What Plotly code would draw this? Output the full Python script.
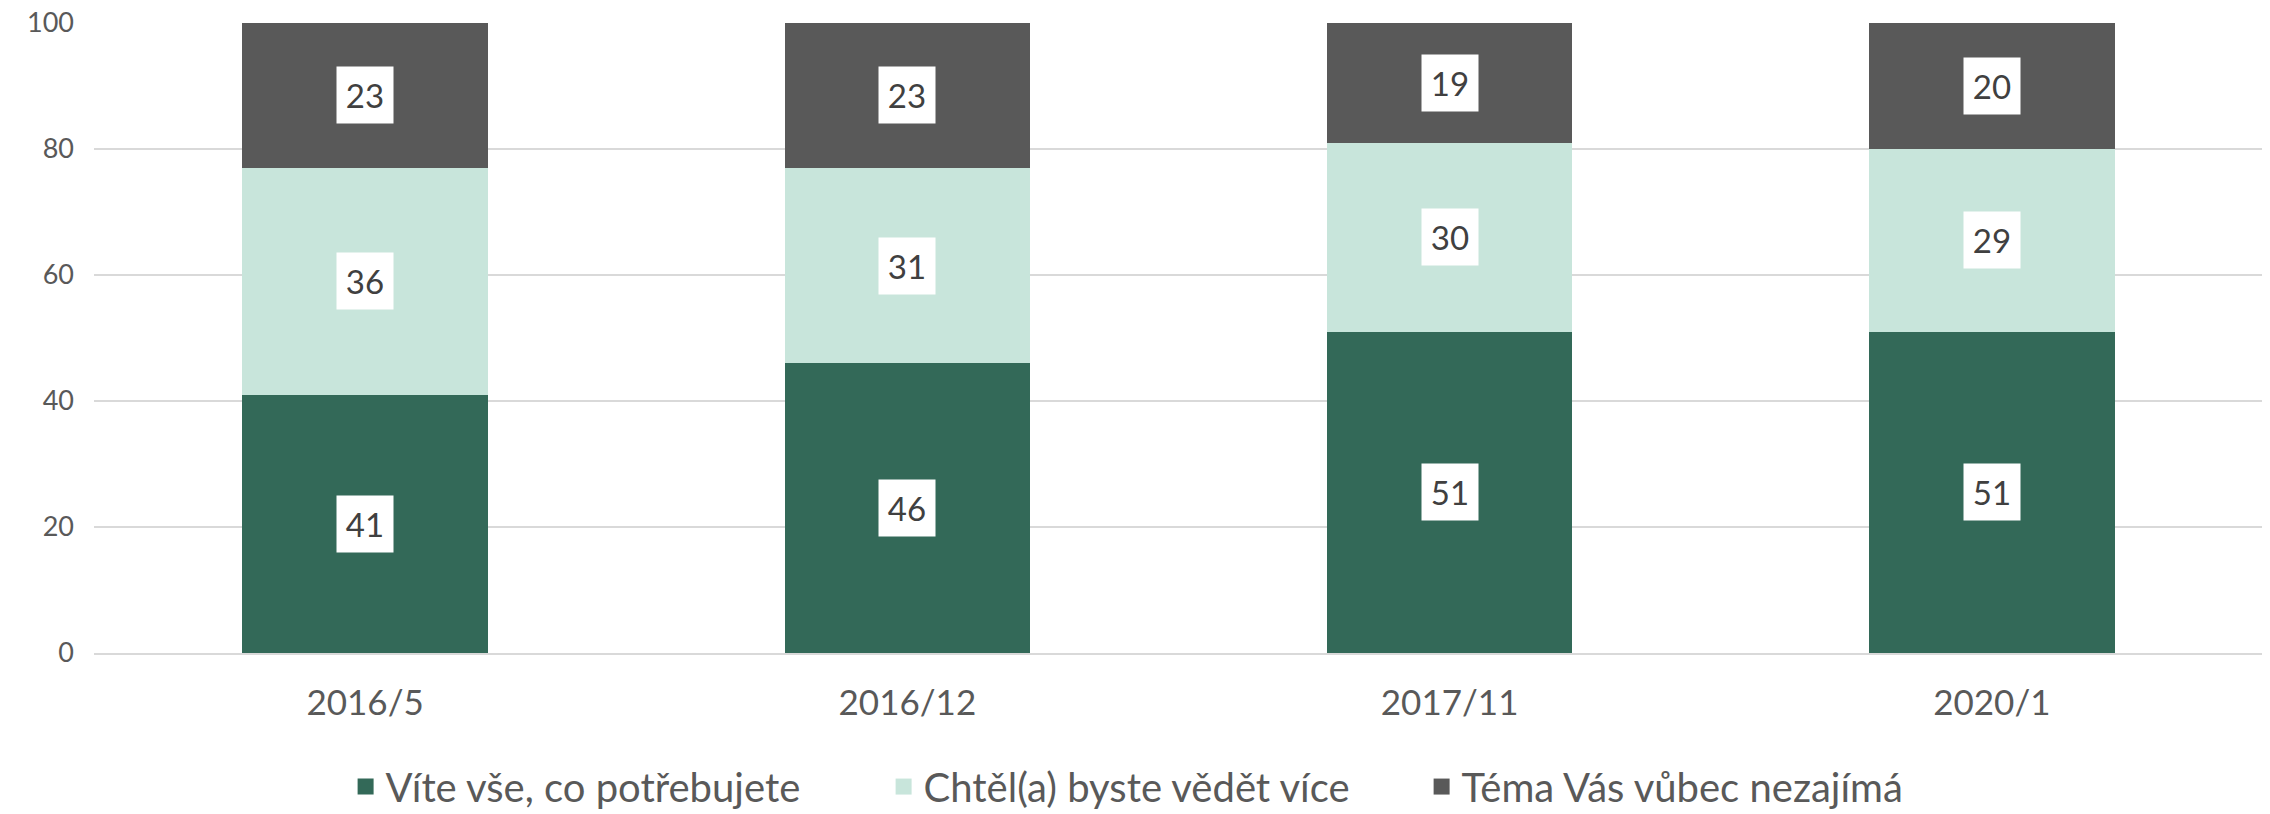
import plotly.graph_objects as go

categories = ["2016/5", "2016/12", "2017/11", "2020/1"]
vite_vse = [41, 46, 51, 51]
chtel_vice = [36, 31, 30, 29]
nezajima = [23, 23, 19, 20]

series = [
    ("Víte vše, co potřebujete", vite_vse, "#336958"),
    ("Chtěl(a) byste vědět více", chtel_vice, "#C8E5DB"),
    ("Téma Vás vůbec nezajímá", nezajima, "#595959"),
]

font = "Lato, 'Open Sans', sans-serif"

fig = go.Figure()
for name, vals, color in series:
    fig.add_trace(go.Bar(x=categories, y=vals, name=name, marker_color=color,
                         marker_line_width=0, showlegend=False))
    # legend proxy with a bigger square symbol
    fig.add_trace(go.Scatter(x=[None], y=[None], mode="markers", name=name,
                             marker=dict(symbol="square", size=22, color=color)))

# value labels in white boxes
base = [0] * len(categories)
for name, vals, color in series:
    for i, (c, v) in enumerate(zip(categories, vals)):
        fig.add_annotation(x=c, y=base[i] + v / 2, text=str(v), showarrow=False,
                           bgcolor="white", width=54, height=54,
                           font=dict(size=33, color="#404040", family=font))
        base[i] += v

# page body has an 8px margin, so the figure is a bit smaller
fig.update_layout(
    barmode="stack",
    bargap=0.547,
    width=2262, height=806,
    margin=dict(l=86, r=7, t=15, b=161, autoexpand=False),
    plot_bgcolor="white", paper_bgcolor="white",
    font=dict(family=font, color="#595959"),
    legend=dict(orientation="h", x=0.116, xanchor="left", y=-0.212, yanchor="middle",
                font=dict(size=40, color="#595959"), entrywidth=493,
                traceorder="normal", itemsizing="trace"),
)
fig.update_yaxes(range=[0, 100], dtick=20, gridcolor="#D9D9D9", gridwidth=2,
                 zeroline=False, tickfont=dict(size=27), ticklabelstandoff=19,
                 ticklabeloverflow="allow", showline=False)
fig.update_xaxes(type="category", tickfont=dict(size=35), ticklabelstandoff=18,
                 showline=True, linecolor="#D9D9D9", linewidth=2, ticks="")

fig.write_html("out.html")
